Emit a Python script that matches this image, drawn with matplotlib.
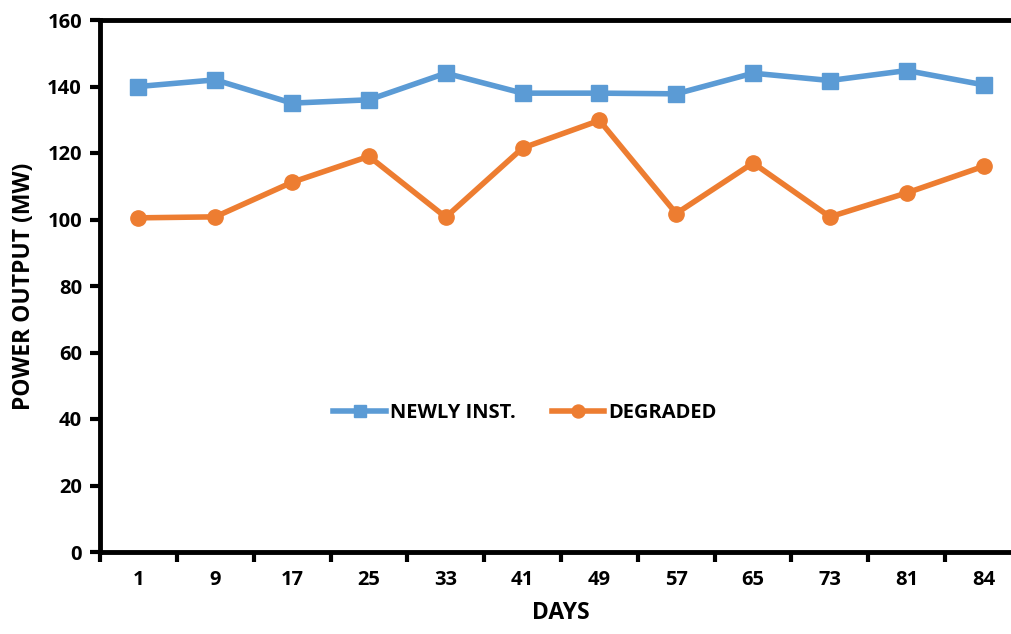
import matplotlib
matplotlib.use('Agg')
import matplotlib.pyplot as plt
import numpy as np

# ---------------------------------------------------------------------------
# Data
# ---------------------------------------------------------------------------
days = ['1', '9', '17', '25', '33', '41', '49', '57', '65', '73', '81', '84']
newly_inst = [140, 142, 135, 136, 144, 138, 138, 137.8, 144, 141.8, 144.8, 140.5]
degraded = [100.5, 100.8, 111.2, 119, 100.7, 121.5, 129.8, 101.8, 117, 100.8, 108, 116]

BLUE = '#5B9BD5'
ORANGE = '#ED7D31'

plt.rcParams['font.family'] = ['Open Sans', 'DejaVu Sans']

fig = plt.figure(figsize=(10.11, 6.34), dpi=100)
W, H = 1011, 634
left, right, top, bottom = 100, 1022, 20, 552
ax = fig.add_axes([left / W, 1 - bottom / H, (right - left) / W, (bottom - top) / H])

x = np.arange(len(days))
ax.plot(x, newly_inst, color=BLUE, lw=4, marker='s', ms=11, label='NEWLY INST.')
ax.plot(x, degraded, color=ORANGE, lw=4, marker='o', ms=11, label='DEGRADED')

ax.set_xlim(-0.5, len(days) - 0.5)
ax.set_ylim(0, 160)
ax.set_yticks(np.arange(0, 161, 20))

# category labels centred, tick marks between categories (spreadsheet style)
ax.set_xticks(np.arange(-0.5, len(days)), minor=False)
ax.set_xticklabels([])
ax.set_xticks(x, minor=True)
ax.set_xticklabels(days, minor=True)
ax.tick_params(axis='x', which='minor', length=0, pad=13, labelsize=14.5)
ax.tick_params(axis='x', which='major', length=7, width=3, direction='out')
ax.tick_params(axis='y', length=7, width=3, direction='out', labelsize=14.5, pad=6)
for lab in ax.get_xticklabels(minor=True) + ax.get_yticklabels():
    lab.set_fontweight('bold')

for side in ('left', 'bottom', 'top'):
    ax.spines[side].set_linewidth(3.5)
ax.spines['right'].set_visible(False)

ax.set_xlabel('DAYS', fontsize=16.5, fontweight='bold', labelpad=8)
ax.set_ylabel('POWER OUTPUT (MW)', fontsize=16.5, fontweight='bold', labelpad=8)

leg = ax.legend(loc='center', bbox_to_anchor=(0.461, 0.262), ncol=2, frameon=False,
                fontsize=14.5, handlelength=2.6, columnspacing=1.8, handletextpad=0.2,
                markerscale=0.85)
for t in leg.get_texts():
    t.set_fontweight('bold')

fig.savefig('out.png', dpi=100)
